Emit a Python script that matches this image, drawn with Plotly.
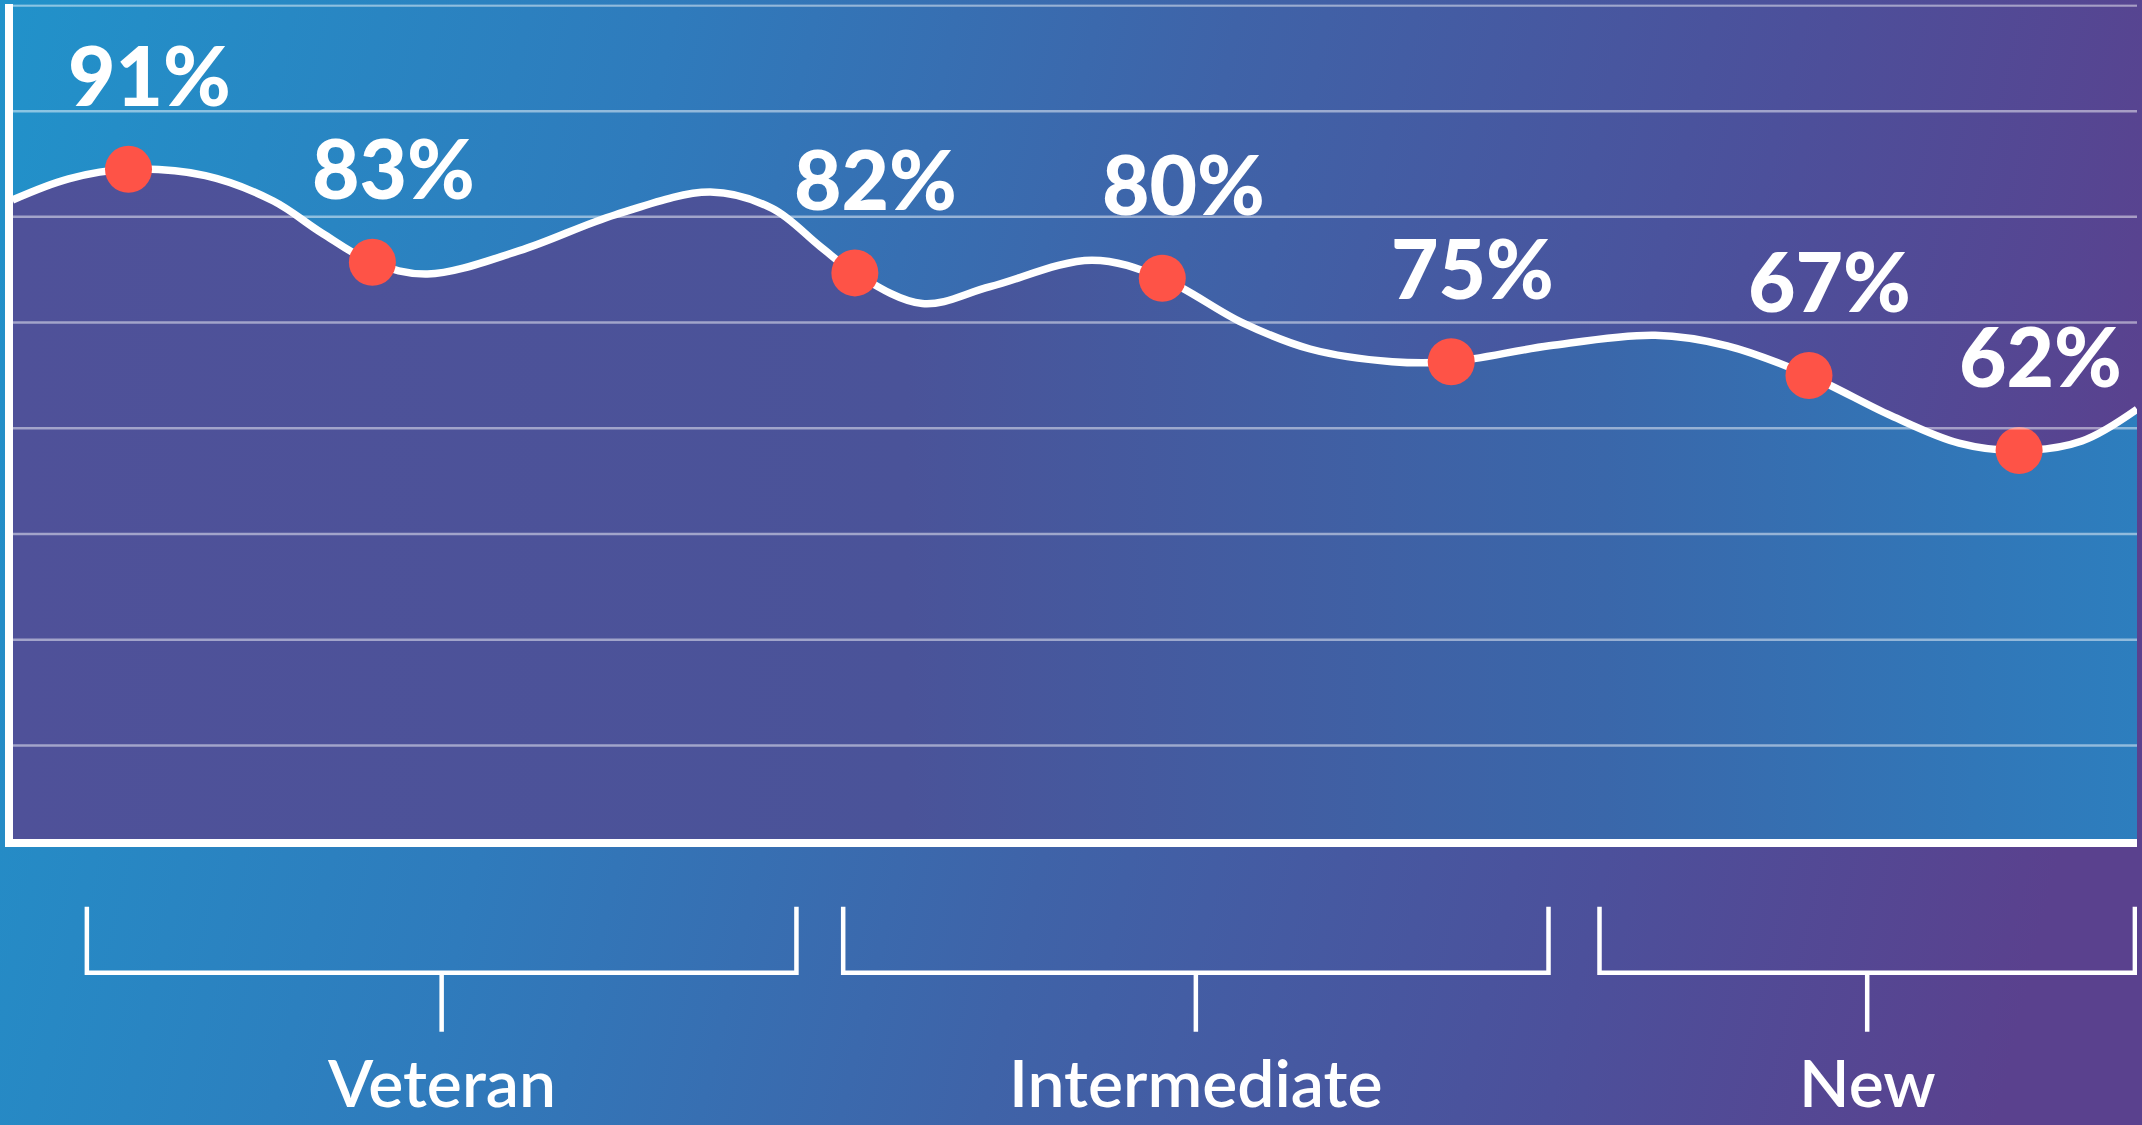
import base64
import plotly.graph_objects as go

W, H = 2142, 1125

# ---------------- data ----------------
labels = ["91%", "83%", "82%", "80%", "75%", "67%", "62%"]
dot_x = [5.46, 16.94, 39.65, 54.12, 67.72, 84.56, 94.45]
dot_y = [64.5, 55.7, 54.7, 54.2, 46.3, 45.0, 37.9]

curve_x = [0, 2.64, 5.46, 9.08, 12.28, 14.54, 16.94, 19.53, 23.86, 28.38,
           32.85, 35.76, 38.02, 39.65, 42.82, 46.02, 50.80, 54.12, 57.88,
           61.08, 64.94, 67.72, 72.33, 77.32, 80.71, 84.56, 88.42, 91.62,
           94.45, 97.41, 100]
curve_y = [61.6, 63.6, 64.5, 63.9, 61.5, 58.5, 55.7, 54.6, 56.8, 60.2,
           62.35, 60.8, 57.2, 54.7, 51.8, 53.4, 55.9, 54.2, 50.0,
           47.5, 46.3, 46.3, 47.8, 48.8, 47.8, 45.0, 41.2, 38.6,
           37.9, 38.8, 41.8]

groups = ["Veteran", "Intermediate", "New"]
group_start = [3.5, 39.1, 74.7]
group_end = [36.9, 72.3, 99.9]

grid_vals = [10, 20, 30, 40, 50, 60, 70, 80]

# ---------------- styling ----------------
RED = "#FE5347"
GRID = "rgba(255,255,255,0.48)"

bg_stops = [(0.0, "#2192ca"), (0.3, "#2f7bbc"), (0.55, "#3f63a8"),
            (0.8, "#4c509b"), (1.0, "#5a418e")]
stops = "".join(f'<stop offset="{o}" stop-color="{c}"/>' for o, c in bg_stops)
svg = (f'<svg xmlns="http://www.w3.org/2000/svg" width="{W}" height="{H}" '
       f'viewBox="0 0 {W} {H}" preserveAspectRatio="none"><defs>'
       f'<linearGradient id="g" x1="0" y1="0" x2="{W}" y2="500" gradientUnits="userSpaceOnUse">'
       f'{stops}</linearGradient></defs><rect width="{W}" height="{H}" fill="url(#g)"/></svg>')
bg_uri = "data:image/svg+xml;base64," + base64.b64encode(svg.encode()).decode()

fig = go.Figure()

# area under the curve with reversed gradient
fig.add_trace(go.Scatter(
    x=curve_x, y=curve_y, mode="lines", line=dict(width=0, shape="spline", smoothing=1.0),
    fill="tozeroy",
    fillgradient=dict(type="horizontal", start=0, stop=100,
                      colorscale=[[0, "#4f5199"], [0.42, "#4a5399"],
                                  [0.75, "#3a67aa"], [1, "#2d7ebe"]]),
    hoverinfo="skip", showlegend=False))

# white curve
fig.add_trace(go.Scatter(
    x=curve_x, y=curve_y, mode="lines",
    line=dict(color="white", width=7.5, shape="spline", smoothing=1.0),
    hoverinfo="skip", showlegend=False))

# red dots
fig.add_trace(go.Scatter(
    x=dot_x, y=dot_y, mode="markers",
    marker=dict(color=RED, size=47, line=dict(width=0)),
    text=labels, hoverinfo="text", showlegend=False))

# percentage labels
for xv, yv, t in zip(dot_x, dot_y, labels):
    fig.add_annotation(x=xv, y=yv, text=t, showarrow=False, xshift=21, yshift=95,
                       xanchor="center", yanchor="middle",
                       font=dict(family="Lato", size=82, color="white", weight=900))

# gridlines drawn above the fill
shapes = []
for g in grid_vals:
    shapes.append(dict(type="line", xref="x", yref="y", x0=0, x1=100, y0=g, y1=g,
                       line=dict(color=GRID, width=2.5), layer="above"))

# group brackets
top_y, mid_y, bot_y = 0.1940, 0.1354, 0.0829
for name, s, e in zip(groups, group_start, group_end):
    c = (s + e) / 2
    shapes.append(dict(type="path", xref="x", yref="paper",
                       path=f"M {s},{top_y} L {s},{mid_y} L {e},{mid_y} L {e},{top_y}",
                       line=dict(color="white", width=4.5)))
    shapes.append(dict(type="line", xref="x", yref="paper", x0=c, x1=c, y0=mid_y, y1=bot_y,
                       line=dict(color="white", width=4.5)))
    fig.add_annotation(x=c, y=0.002, xref="x", yref="paper", text=name, showarrow=False,
                       xanchor="center", yanchor="bottom",
                       font=dict(family="Lato", size=66, color="white", weight=600))

fig.update_layout(
    width=W, height=H, autosize=False,
    margin=dict(l=0, r=0, t=0, b=0, pad=0),
    paper_bgcolor="#3a6aae", plot_bgcolor="rgba(0,0,0,0)",
    shapes=shapes,
    images=[dict(source=bg_uri, xref="paper", yref="paper", x=0, y=1, sizex=1, sizey=1,
                 xanchor="left", yanchor="top", sizing="stretch", layer="below")],
    xaxis=dict(domain=[12.5 / W, 2137 / W], range=[0, 100], showgrid=False,
               zeroline=False, showticklabels=False, ticks="",
               showline=True, linecolor="white", linewidth=8),
    yaxis=dict(domain=[(H - 839) / H, (H - 4.4) / H], range=[1.145, 80.1], showgrid=False,
               zeroline=False, showticklabels=False, ticks="",
               showline=True, linecolor="white", linewidth=8),
)

fig.write_html("out.html", config={"displayModeBar": False},
               post_script="document.body.style.margin='0';")
